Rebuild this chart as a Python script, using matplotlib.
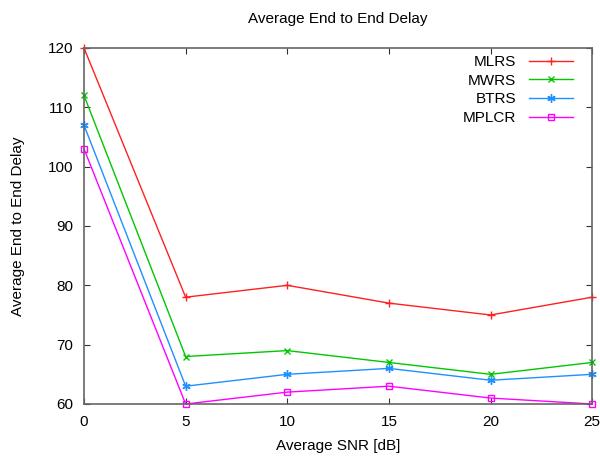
import matplotlib.pyplot as plt

plt.rcParams['font.family'] = ['Liberation Sans', 'DejaVu Sans']

snr = [0, 5, 10, 15, 20, 25]
mlrs = [120, 78, 80, 77, 75, 78]
mwrs = [112, 68, 69, 67, 65, 67]
btrs = [107, 63, 65, 66, 64, 65]
mplcr = [103, 60, 62, 63, 61, 60]

fig = plt.figure(figsize=(6, 4.57), dpi=100)
ax = fig.add_axes([0.14, 0.116, 0.847, 0.779])

ax.plot(snr, mlrs, color='#ff2020', marker='+', ms=6, lw=1, label='MLRS', clip_on=False)
ax.plot(snr, mwrs, color='#00c800', marker='x', ms=5, lw=1, label='MWRS', clip_on=False)
ax.plot(snr, btrs, color='#1e90ff', marker=(6, 2, 0), ms=6, lw=1, label='BTRS', clip_on=False)
ax.plot(snr, mplcr, color='#ff00ff', marker='s', ms=5, mfc='none', lw=1, label='MPLCR', clip_on=False)

ax.set_xlim(0, 25)
ax.set_ylim(60, 120)
ax.set_xticks(snr)
ax.set_yticks(range(60, 121, 10))
ax.tick_params(direction='in', top=True, right=True, length=4, labelsize=11,
               color='#333333', pad=8)
for s in ax.spines.values():
    s.set_color('#666666')
    s.set_linewidth(1.2)

ax.set_xlabel('Average SNR [dB]', fontsize=11, labelpad=7)
ax.set_ylabel('Average End to End Delay', fontsize=11, labelpad=16)
ax.set_title('Average End to End Delay', fontsize=11, pad=18)

ax.legend(loc='upper right', frameon=False, markerfirst=False, fontsize=11,
          handlelength=2.9, labelspacing=0.3, borderaxespad=0.0, borderpad=0.0,
          handletextpad=0.8, bbox_to_anchor=(0.962, 0.98))

fig.savefig('out.png')
